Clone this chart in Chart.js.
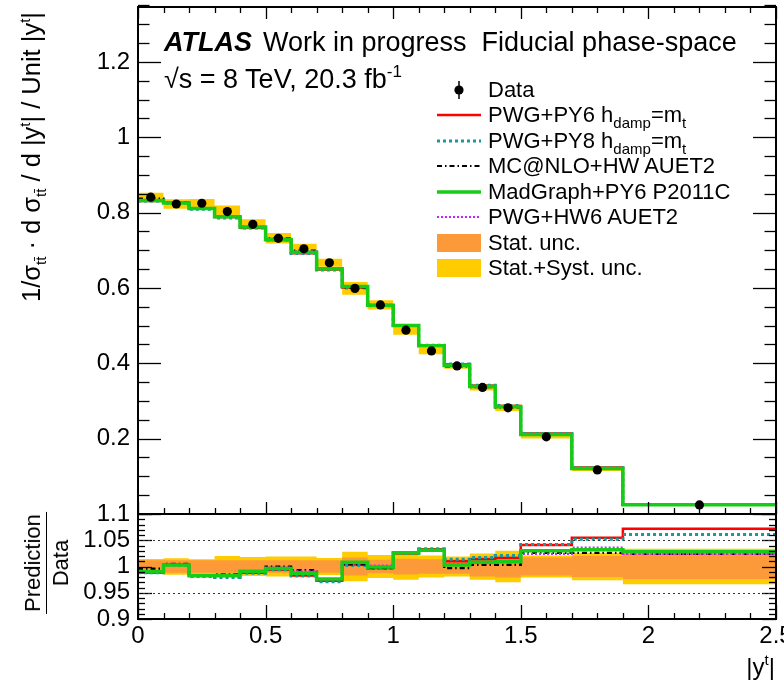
<!DOCTYPE html>
<html><head><meta charset="utf-8">
<script src="https://cdn.jsdelivr.net/npm/chart.js@4.4.0/dist/chart.umd.min.js"></script>
<style>
html,body{margin:0;padding:0;background:#fff;}
body{width:784px;height:680px;overflow:hidden;position:relative;font-family:"Liberation Sans",Arial,Helvetica,sans-serif;color:#000;}
canvas{position:absolute;left:0;top:0;}
.t{position:absolute;white-space:nowrap;line-height:1;}
.sb{position:relative;top:6px;font-size:15px;}
.sp{position:relative;top:-10px;font-size:15px;}
</style></head><body>
<canvas id="mainChart" width="784" height="680"></canvas>
<canvas id="ratioChart" width="784" height="680"></canvas>
<div id="overlay"></div>
<script>
// ---------------- data ----------------
const binEdges   = [0,0.1,0.2,0.3,0.4,0.5,0.6,0.7,0.8,0.9,1.0,1.1,1.2,1.3,1.4,1.5,1.7,1.9,2.5];
const binCenters = [0.05,0.15,0.25,0.35,0.45,0.55,0.65,0.75,0.85,0.95,1.05,1.15,1.25,1.35,1.45,1.6,1.8,2.2];
const dataValues = [0.841,0.823,0.825,0.803,0.769,0.732,0.704,0.667,0.599,0.555,0.488,0.433,0.393,0.336,0.282,0.205,0.117,0.024];
// Prediction / Data
const ratioPwgPy6      = [0.988,1.004,0.982,0.982,0.988,0.994,0.983,0.973,1.004,0.997,1.025,1.033,1.010,1.014,1.016,1.041,1.055,1.072];
const ratioPwgPy8      = [0.988,1.003,0.981,0.979,0.987,0.994,0.982,0.971,1.002,0.996,1.025,1.034,1.014,1.017,1.021,1.042,1.052,1.061];
const ratioMcnloHw     = [0.996,1.005,0.983,0.985,0.991,1.000,0.993,0.976,1.004,0.997,1.026,1.030,0.997,1.003,1.003,1.026,1.026,1.024];
const ratioMadGraphPy6 = [0.990,1.003,0.983,0.983,0.991,0.996,0.987,0.976,1.008,0.999,1.026,1.031,1.003,1.008,1.009,1.030,1.032,1.028];
const ratioPwgHw6      = [0.991,1.004,0.983,0.983,0.990,0.998,0.991,0.975,1.006,1.002,1.026,1.031,1.005,1.008,1.010,1.024,1.036,1.024];
// relative uncertainties
const statUnc  = [0.012,0.012,0.012,0.012,0.012,0.012,0.012,0.012,0.017,0.013,0.015,0.014,0.014,0.019,0.021,0.017,0.020,0.024];
const totalUnc = [0.0145,0.0155,0.014,0.020,0.018,0.019,0.019,0.016,0.028,0.022,0.025,0.021,0.019,0.025,0.030,0.021,0.026,0.034];
// tick labels
const xTickValues     = [0,0.5,1,1.5,2,2.5];
const yTickValuesMain = [0.2,0.4,0.6,0.8,1,1.2];
const yTickValuesRatio= [0.9,0.95,1,1.05,1.1];

// ---------------- styles ----------------
const FONT = '"Liberation Sans", Arial, Helvetica, sans-serif';
const GOLD = '#ffcc00', ORANGE = '#fc9a3a';
const styles = {
  py6: {color:'#ff0000', width:2.5, dash:[]},
  py8: {color:'#199a9a', width:3, dash:[3,3]},
  mcnlo: {color:'#000000', width:2.2, dash:[5,3,1.5,3]},
  mg: {color:'#17cc17', width:3.5, dash:[]},
  hw6: {color:'#cc22ff', width:2, dash:[2,2]}
};

function histPoints(values){
  const pts = [];
  values.forEach((v,i)=>{ pts.push({x:binEdges[i], y:v}); pts.push({x:binEdges[i+1], y:v}); });
  return pts;
}
function lineDs(label, values, st, order){
  return {label, data:histPoints(values), borderColor:st.color, borderWidth:st.width, borderDash:st.dash,
          pointRadius:0, pointHoverRadius:0, fill:false, tension:0, order};
}
function bandDs(label, values, color, fill, order){
  return {label, data:histPoints(values), borderColor:'rgba(0,0,0,0)', borderWidth:1, backgroundColor:color,
          pointRadius:0, pointHoverRadius:0, fill, tension:0, order};
}
const pred = r => dataValues.map((d,i)=>d*r[i]);
const fitY = s => { s.width = 138; s.paddingTop = 0; s.paddingBottom = 0; };

// frame + inward ticks plugin
const frameTicks = {
  id:'frameTicks',
  afterDatasetsDraw(chart, args, o){
    const {ctx, chartArea:a, scales:{x,y}} = chart;
    ctx.save();
    ctx.strokeStyle = '#000'; ctx.lineWidth = 1.3;
    const seg=(x1,y1,x2,y2)=>{ctx.beginPath();ctx.moveTo(x1,y1);ctx.lineTo(x2,y2);ctx.stroke();};
    const L=Math.round(a.left), R=Math.round(a.right), T=Math.round(a.top), B=Math.round(a.bottom);
    const each=(min,max,step,f)=>{const n=Math.round((max-min)/step);for(let i=0;i<=n;i++)f(min+i*step);};
    each(0,2.5,0.1,v=>{
      const px=Math.round(x.getPixelForValue(v))+0.5;
      const major = Math.abs(v/0.5-Math.round(v/0.5))<1e-6;
      const len = major?o.xMajor:o.xMinor;
      if(o.xBottom) seg(px,B,px,B-len);
      if(o.xTop) seg(px,T,px,T+len);
    });
    each(o.yMin,o.yMax,o.yMinorStep,v=>{
      const py=Math.round(y.getPixelForValue(v))+0.5;
      const major = Math.abs(v/o.yMajorStep-Math.round(v/o.yMajorStep))<1e-6;
      const len = major?o.yMajor:o.yMinor;
      seg(L,py,L+len,py); seg(R,py,R-len,py);
    });
    if(o.refLines){
      ctx.setLineDash([2,3]); ctx.lineWidth=1; ctx.strokeStyle='#333';
      o.refLines.forEach(v=>{const py=Math.round(y.getPixelForValue(v))+0.5; seg(L,py,R,py);});
      ctx.setLineDash([]);
    }
    ctx.strokeStyle='#000'; ctx.lineWidth=2;
    ctx.strokeRect(L,T,R-L,B-T);
    ctx.restore();
  }
};

// ---------------- main panel ----------------
new Chart(document.getElementById('mainChart'), {
  type:'line',
  data:{datasets:[
    {label:'Data', data:binCenters.map((x,i)=>({x, y:dataValues[i]})), showLine:false, pointRadius:4.6, pointHoverRadius:4.6,
     pointBackgroundColor:'#000', pointBorderColor:'#000', pointBorderWidth:0, order:0},
    lineDs('MadGraph+PY6 P2011C', pred(ratioMadGraphPy6), styles.mg, 1),
    lineDs('PWG+HW6 AUET2', pred(ratioPwgHw6), styles.hw6, 2),
    lineDs('MC@NLO+HW AUET2', pred(ratioMcnloHw), styles.mcnlo, 3),
    lineDs('PWG+PY8', pred(ratioPwgPy8), styles.py8, 4),
    lineDs('PWG+PY6', pred(ratioPwgPy6), styles.py6, 5),
    bandDs('totUp', dataValues.map((d,i)=>d*(1+totalUnc[i])), GOLD, '+1', 20),
    bandDs('totDn', dataValues.map((d,i)=>d*(1-totalUnc[i])), GOLD, false, 21)
  ]},
  options:{
    responsive:false, animation:false, devicePixelRatio:1,
    layout:{padding:{left:0,right:8,top:7,bottom:166}, autoPadding:false},
    plugins:{legend:{display:false}, tooltip:{enabled:false},
      frameTicks:{xMajor:12,xMinor:6,xBottom:true,xTop:true,yMin:0,yMax:1.34,yMinorStep:0.05,yMajorStep:0.2,yMajor:23,yMinor:11.5}},
    scales:{
      x:{type:'linear', min:0, max:2.5, display:false},
      y:{type:'linear', min:0, max:1.346,
         afterBuildTicks:s=>{s.ticks=yTickValuesMain.map(v=>({value:v}));},
         afterFit:fitY,
         grid:{display:false, drawTicks:false}, border:{display:false},
         ticks:{color:'#000', font:{family:FONT,size:24}, padding:8, autoSkip:false, callback:v=>String(v)}}
    }
  },
  plugins:[frameTicks]
});

// ---------------- ratio panel ----------------
new Chart(document.getElementById('ratioChart'), {
  type:'line',
  data:{datasets:[
    lineDs('MadGraph+PY6 P2011C', ratioMadGraphPy6, styles.mg, 1),
    lineDs('PWG+HW6 AUET2', ratioPwgHw6, styles.hw6, 2),
    lineDs('MC@NLO+HW AUET2', ratioMcnloHw, styles.mcnlo, 3),
    lineDs('PWG+PY8', ratioPwgPy8, styles.py8, 4),
    lineDs('PWG+PY6', ratioPwgPy6, styles.py6, 5),
    bandDs('statUp', statUnc.map(u=>1+u), ORANGE, '+1', 18),
    bandDs('statDn', statUnc.map(u=>1-u), ORANGE, false, 19),
    bandDs('totUp', totalUnc.map(u=>1+u), GOLD, '+1', 20),
    bandDs('totDn', totalUnc.map(u=>1-u), GOLD, false, 21)
  ]},
  options:{
    responsive:false, animation:false, devicePixelRatio:1,
    layout:{padding:{left:0,right:8,top:514,bottom:0}, autoPadding:false},
    plugins:{legend:{display:false}, tooltip:{enabled:false},
      frameTicks:{xMajor:14,xMinor:6,xBottom:true,xTop:false,yMin:0.9,yMax:1.1,yMinorStep:0.01,yMajorStep:0.05,yMajor:14,yMinor:7,refLines:[0.95,1.05]}},
    scales:{
      x:{type:'linear', min:0, max:2.5,
         afterBuildTicks:s=>{s.ticks=xTickValues.map(v=>({value:v}));},
         afterFit:s=>{s.height=61; s.paddingLeft=0; s.paddingRight=0;},
         grid:{display:false, drawTicks:false}, border:{display:false},
         ticks:{color:'#000', font:{family:FONT,size:24}, padding:3, autoSkip:false, maxRotation:0, callback:v=>String(v)}},
      y:{type:'linear', min:0.9, max:1.1,
         afterBuildTicks:s=>{s.ticks=yTickValuesRatio.map(v=>({value:v}));},
         afterFit:fitY,
         grid:{display:false, drawTicks:false}, border:{display:false},
         ticks:{color:'#000', font:{family:FONT,size:24}, padding:8, autoSkip:false, callback:v=>String(v)}}
    }
  },
  plugins:[frameTicks]
});

// ---------------- text overlay ----------------
const legendItems = [
  {kind:'data', html:'Data'},
  {kind:'line', st:styles.py6, html:'PWG+PY6 h<span class="sb">damp</span>=m<span class="sb">t</span>'},
  {kind:'line', st:styles.py8, html:'PWG+PY8 h<span class="sb">damp</span>=m<span class="sb">t</span>'},
  {kind:'line', st:styles.mcnlo, html:'MC@NLO+HW AUET2'},
  {kind:'line', st:styles.mg, html:'MadGraph+PY6 P2011C'},
  {kind:'line', st:styles.hw6, html:'PWG+HW6 AUET2'},
  {kind:'box', color:ORANGE, html:'Stat. unc.'},
  {kind:'box', color:GOLD, html:'Stat.+Syst. unc.'}
];
let html = '';
legendItems.forEach((it,i)=>{
  const cy = 89.5 + i*25.5;
  let svg = '';
  if(it.kind==='data') svg = '<line x1="22" y1="1" x2="22" y2="19" stroke="#000" stroke-width="1.5"/><circle cx="22" cy="10" r="4.6" fill="#000"/>';
  else if(it.kind==='line') svg = `<line x1="0" y1="10" x2="44" y2="10" stroke="${it.st.color}" stroke-width="${it.st.width}" stroke-dasharray="${it.st.dash.join(',')||'none'}"/>`;
  else svg = `<rect x="0" y="1" width="44" height="18" fill="${it.color}"/>`;
  html += `<svg style="position:absolute;left:437px;top:${cy-10}px" width="44" height="20">${svg}</svg>`;
  html += `<div class="t" style="left:488px;top:${cy-10.8}px;font-size:22px">${it.html}</div>`;
});
html += '<div class="t" style="left:164px;top:29px;font-size:27px"><b><i>ATLAS</i></b><span style="margin-left:11px">Work in progress</span><span style="margin-left:15px">Fiducial phase-space</span></div>';
html += '<div class="t" style="left:164px;top:66px;font-size:27px">√s = 8 TeV, 20.3 fb<span style="position:relative;top:-11px;font-size:17px">-1</span></div>';
html += '<div class="t" style="left:19px;top:302px;font-size:25.5px;transform:rotate(-90deg);transform-origin:left top;">1/σ<span class="sb">tt̄</span> · d σ<span class="sb">tt̄</span> / d |y<span class="sp">t</span>| / Unit |y<span class="sp">t</span>|</div>';
html += '<div class="t" style="left:47px;top:563px;font-size:22px;transform:translate(-50%,-50%) rotate(-90deg);text-align:center;"><div style="border-bottom:1.5px solid #000;padding:0 2px 2px 2px">Prediction</div><div style="padding-top:3px">Data</div></div>';
html += '<div class="t" style="right:9px;top:655px;font-size:24px">|y<span class="sp">t</span>|</div>';
document.getElementById('overlay').innerHTML = html;
</script>
</body></html>
